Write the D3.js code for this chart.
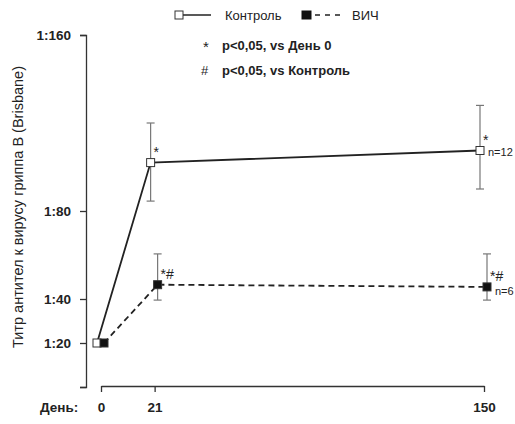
<!DOCTYPE html>
<html>
<head>
<meta charset="utf-8">
<script src="https://cdn.jsdelivr.net/npm/d3@7"></script>
<style>
  body { margin: 0; background: #fff; }
  text { font-family: "Liberation Sans", Arial, sans-serif; fill: #222; }
</style>
</head>
<body>
<div id="chart"></div>
<script>
// Данные
const days = [0, 21, 150];
const dayLabels = ['0', '21', '150'];
const yTicks = [0, 20, 40, 80, 160];
const yTickLabels = ['', '1:20', '1:40', '1:80', '1:160'];

const controlMean = [20, 102, 107.5];
const controlLow = [20, 84.5, 90];
const controlHigh = [20, 120, 128];

const hivMean = [20, 46.5, 45.5];
const hivLow = [20, 39.5, 39.5];
const hivHigh = [20, 60.5, 60.5];

const controlMarks = ['', '*', '*'];
const hivMarks = ['', '*#', '*#'];

const width = 515, height = 424;

const svg = d3.select('#chart').append('svg')
  .attr('width', width)
  .attr('height', height);

const x = d3.scaleLinear().domain([0, 150]).range([101, 484]);
const y = d3.scaleLinear().domain([0, 160]).range([387, 35]);

// ось Y
const yAxis = svg.append('g')
  .attr('transform', 'translate(86,0)')
  .call(d3.axisLeft(y).tickValues(yTicks).tickFormat((d, i) => yTickLabels[i]).tickSize(6).tickPadding(9));
yAxis.select('.domain').attr('stroke', '#333').attr('stroke-width', 1.3);
yAxis.selectAll('.tick line').attr('stroke', '#333').attr('stroke-width', 1.3);
yAxis.selectAll('.tick text')
  .attr('font-size', 13.5).attr('font-weight', 'bold')
  .attr('font-family', '"Liberation Sans", Arial, sans-serif').attr('fill', '#222');

// ось X (отдельно)
const xAxis = svg.append('g')
  .attr('transform', 'translate(0,386)')
  .call(d3.axisBottom(x).tickValues(days).tickFormat((d, i) => dayLabels[i]).tickSize(6).tickPadding(10).tickSizeOuter(0));
xAxis.select('.domain').attr('stroke', '#333').attr('stroke-width', 1.3);
xAxis.selectAll('.tick line').attr('stroke', '#333').attr('stroke-width', 1.3);
xAxis.selectAll('.tick text')
  .attr('font-size', 13.5).attr('font-weight', 'bold')
  .attr('font-family', '"Liberation Sans", Arial, sans-serif').attr('fill', '#222');

svg.append('text')
  .attr('x', 40).attr('y', 412)
  .attr('font-size', 13.5).attr('font-weight', 'bold')
  .text('День:');

svg.append('text')
  .attr('transform', 'translate(23,207) rotate(-90)')
  .attr('text-anchor', 'middle')
  .attr('font-size', 14.5)
  .attr('fill', '#333')
  .text('Титр антител к вирусу гриппа В (Brisbane)');

// серии
const series = [
  { mean: controlMean, low: controlLow, high: controlHigh, dx: -4, fill: '#fff', dash: null, marks: controlMarks, n: 'n=12', ndy: 5 },
  { mean: hivMean, low: hivLow, high: hivHigh, dx: 3, fill: '#111', dash: '6,4', marks: hivMarks, n: 'n=6', ndy: 8 }
];

series.forEach(s => {
  const g = svg.append('g');
  const pts = days.map((d, i) => [x(d) + s.dx, y(s.mean[i])]);

  // усы
  days.forEach((d, i) => {
    if (s.high[i] === s.low[i]) return;
    const cx = x(d) + s.dx;
    g.append('line').attr('x1', cx).attr('x2', cx)
      .attr('y1', y(s.high[i])).attr('y2', y(s.low[i]))
      .attr('stroke', '#777').attr('stroke-width', 1.2);
    [s.high[i], s.low[i]].forEach(v => {
      g.append('line').attr('x1', cx - 4).attr('x2', cx + 4)
        .attr('y1', y(v)).attr('y2', y(v))
        .attr('stroke', '#777').attr('stroke-width', 1.2);
    });
  });

  g.append('path')
    .attr('d', d3.line()(pts))
    .attr('fill', 'none')
    .attr('stroke', '#222')
    .attr('stroke-width', 1.8)
    .attr('stroke-dasharray', s.dash);

  g.selectAll('rect').data(pts).enter().append('rect')
    .attr('x', d => d[0] - 4).attr('y', d => d[1] - 4)
    .attr('width', 8).attr('height', 8)
    .attr('fill', s.fill).attr('stroke', '#333').attr('stroke-width', 1);

  days.forEach((d, i) => {
    if (!s.marks[i]) return;
    g.append('text')
      .attr('x', x(d) + s.dx + 3).attr('y', y(s.mean[i]) - 6)
      .attr('font-size', 14)
      .text(s.marks[i]);
  });

  g.append('text')
    .attr('x', x(150) + s.dx + 8).attr('y', y(s.mean[2]) + s.ndy)
    .attr('font-size', 11)
    .attr('fill', '#333')
    .text(s.n);
});

// легенда
const leg = svg.append('g');
leg.append('line').attr('x1', 180).attr('x2', 211).attr('y1', 15).attr('y2', 15)
  .attr('stroke', '#222').attr('stroke-width', 1.5);
leg.append('rect').attr('x', 175).attr('y', 11).attr('width', 8).attr('height', 8)
  .attr('fill', '#fff').attr('stroke', '#333');
leg.append('text').attr('x', 225).attr('y', 20).attr('font-size', 13).text('Контроль');

leg.append('line').attr('x1', 305).attr('x2', 340).attr('y1', 15).attr('y2', 15)
  .attr('stroke', '#222').attr('stroke-width', 1.5).attr('stroke-dasharray', '5,5');
leg.append('rect').attr('x', 302).attr('y', 11).attr('width', 9).attr('height', 8)
  .attr('fill', '#111').attr('stroke', '#111');
leg.append('text').attr('x', 352).attr('y', 20).attr('font-size', 13).text('ВИЧ');

leg.append('text').attr('x', 203).attr('y', 52).attr('font-size', 15).text('*');
leg.append('text').attr('x', 222).attr('y', 50).attr('font-size', 13).attr('font-weight', 'bold').text('p<0,05, vs День 0');
leg.append('text').attr('x', 201).attr('y', 75).attr('font-size', 13).text('#');
leg.append('text').attr('x', 222).attr('y', 75).attr('font-size', 13).attr('font-weight', 'bold').text('p<0,05, vs Контроль');
</script>
</body>
</html>
